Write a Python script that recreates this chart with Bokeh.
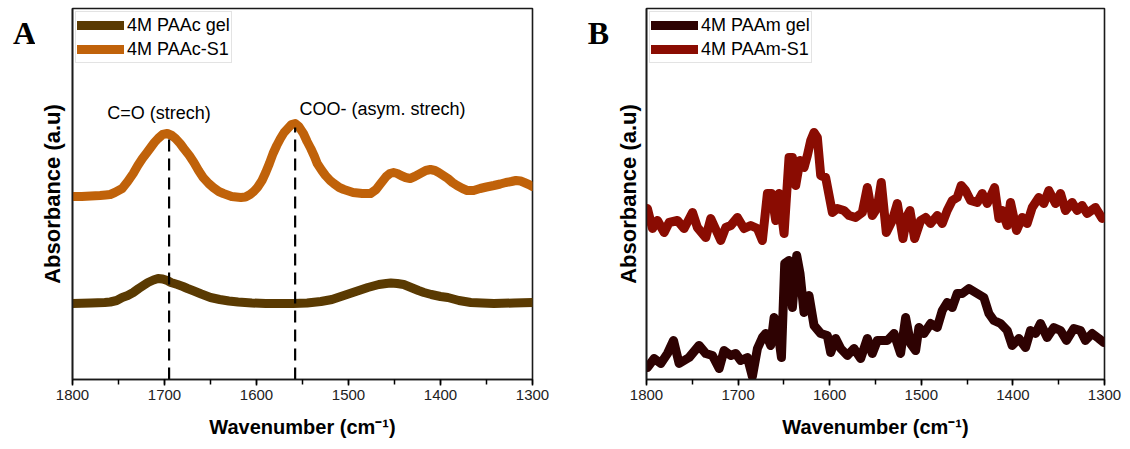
from bokeh.plotting import figure
from bokeh.layouts import row
from bokeh.models import Range1d, SingleIntervalTicker, FixedTicker
from bokeh.core.properties import value
from bokeh.embed import file_html
from bokeh.resources import INLINE

# ---------------- data (arbitrary absorbance units) ----------------
paac_wn = [1800, 1790, 1780, 1770, 1764, 1759, 1754, 1750, 1746, 1740, 1734, 1729, 1724,
           1719, 1715, 1711, 1707, 1702, 1697, 1692, 1688, 1683, 1679, 1673, 1668, 1663,
           1658, 1652, 1647, 1641, 1636, 1627, 1617, 1612, 1607, 1603, 1599, 1594, 1590,
           1586, 1582, 1578, 1574, 1570, 1566, 1562, 1558, 1554, 1549, 1545, 1541, 1537,
           1534, 1529, 1525, 1520, 1516, 1510, 1505, 1495, 1485, 1476, 1470, 1465, 1459,
           1455, 1451, 1447, 1443, 1438, 1433, 1428, 1422, 1416, 1411, 1406, 1402, 1397,
           1392, 1387, 1382, 1376, 1371, 1364, 1357, 1350, 1342, 1335, 1329, 1323, 1318,
           1313, 1309, 1304, 1300]
paac_s1 = [1.83, 1.83, 1.835, 1.84, 1.845, 1.85, 1.87, 1.89, 1.91, 1.98, 2.06, 2.14, 2.21,
           2.27, 2.32, 2.37, 2.41, 2.45, 2.46, 2.44, 2.41, 2.36, 2.31, 2.24, 2.17, 2.09,
           2.02, 1.96, 1.92, 1.88, 1.86, 1.83, 1.82, 1.825, 1.85, 1.88, 1.92, 1.99, 2.07,
           2.16, 2.26, 2.34, 2.41, 2.47, 2.51, 2.55, 2.56, 2.53, 2.46, 2.38, 2.31, 2.23,
           2.16, 2.09, 2.04, 1.99, 1.96, 1.92, 1.90, 1.87, 1.86, 1.86, 1.90, 1.96, 2.03,
           2.06, 2.07, 2.06, 2.04, 2.02, 2.01, 2.03, 2.06, 2.09, 2.10, 2.09, 2.07, 2.04,
           2.01, 1.97, 1.94, 1.91, 1.89, 1.89, 1.91, 1.925, 1.94, 1.955, 1.97, 1.98, 1.99,
           1.985, 1.97, 1.95, 1.93]

paac_gel_wn = [1800, 1780, 1765, 1759, 1752, 1746, 1740, 1734, 1728, 1723, 1718, 1712,
               1707, 1702, 1697, 1693, 1686, 1680, 1675, 1668, 1660, 1650, 1640, 1630,
               1620, 1605, 1590, 1575, 1560, 1545, 1530, 1518, 1505, 1492, 1479, 1467,
               1459, 1454, 1447, 1440, 1432, 1424, 1418, 1410, 1400, 1392, 1380, 1367,
               1355, 1342, 1320, 1300]
paac_gel = [0.76, 0.765, 0.77, 0.775, 0.79, 0.82, 0.84, 0.87, 0.91, 0.94, 0.97, 0.995,
            1.01, 1.005, 0.99, 0.97, 0.95, 0.93, 0.91, 0.885, 0.855, 0.82, 0.80, 0.785,
            0.775, 0.765, 0.76, 0.76, 0.76, 0.765, 0.78, 0.80, 0.84, 0.88, 0.92, 0.95,
            0.96, 0.965, 0.96, 0.95, 0.92, 0.89, 0.87, 0.85, 0.83, 0.82, 0.79, 0.77,
            0.765, 0.76, 0.765, 0.77]

peak_wn = [1695, 1558]
peak_top = [2.47, 2.52]
peak_text = ["C=O (strech)", "COO- (asym. strech)"]
peak_text_wn = [1706, 1463]
peak_text_y = [2.67, 2.71]

paam_s1_wn = [1799, 1793.5, 1788, 1780.7, 1775.3, 1766.2, 1758.9, 1749.8, 1744.4, 1735.3,
              1729.8, 1718.9, 1713.5, 1708, 1700.7, 1693.5, 1686.2, 1678.9, 1673.5, 1668,
              1663.6, 1658.9, 1655.3, 1649.8, 1644.4, 1640.7, 1637.1, 1632.4, 1628, 1624.4,
              1620.7, 1617.1, 1613.5, 1609.8, 1604.4, 1597.1, 1591.7, 1584.4, 1578.9, 1571.7,
              1564.4, 1558.9, 1553.5, 1548, 1543.7, 1538.2, 1531.7, 1526.2, 1520, 1515.3,
              1512.4, 1507.3, 1500.8, 1495.3, 1489.8, 1482.6, 1477.1, 1471.7, 1466.2, 1460.8,
              1456.4, 1451.7, 1446.2, 1438.9, 1433.5, 1428, 1420, 1415.3, 1411.7, 1406.2,
              1402.6, 1396, 1389.9, 1384.4, 1378.9, 1371.7, 1366.2, 1360.8, 1353.5, 1348,
              1342.6, 1335.3, 1329.9, 1324.4, 1319, 1309.9, 1302.6]
paam_s1 = [1.71, 1.51, 1.59, 1.47, 1.57, 1.59, 1.51, 1.67, 1.52, 1.42,
           1.61, 1.39, 1.52, 1.54, 1.62, 1.51, 1.54, 1.51, 1.39, 1.86,
           1.86, 1.59, 1.86, 1.46, 2.22, 2.22, 1.94, 2.19, 2.12, 2.24,
           2.39, 2.47, 2.42, 2.04, 2.02, 1.67, 1.71, 1.69, 1.64, 1.62,
           1.67, 1.92, 1.64, 1.72, 1.97, 1.47, 1.59, 1.76, 1.41, 1.64,
           1.69, 1.41, 1.59, 1.62, 1.56, 1.64, 1.56, 1.69, 1.79, 1.82,
           1.94, 1.89, 1.79, 1.77, 1.86, 1.76, 1.92, 1.61, 1.69, 1.54,
           1.77, 1.49, 1.62, 1.56, 1.72, 1.82, 1.76, 1.89, 1.76, 1.86,
           1.69, 1.77, 1.69, 1.74, 1.66, 1.72, 1.61]

paam_gel_wn = [1799, 1791.6, 1784.4, 1777.1, 1770.5, 1764.4, 1753.5, 1742.6, 1735.3, 1728,
               1720.7, 1715.3, 1708, 1702.6, 1697.1, 1689.8, 1684.4, 1678.9, 1673.5, 1669.8,
               1664.4, 1660.7, 1657.1, 1652.7, 1649.1, 1644.4, 1640.7, 1636, 1632.4, 1628,
               1622.6, 1617.1, 1609.8, 1602.6, 1598.9, 1593.5, 1588, 1580.7, 1573.5, 1566.2,
               1558.9, 1553.5, 1548, 1537.1, 1529.8, 1522.6, 1517.1, 1511.7, 1506.2, 1502.6,
               1497.1, 1489.8, 1482.6, 1477.1, 1471.7, 1466.2, 1460.8, 1455.3, 1448, 1440.8,
               1431.7, 1426.2, 1420.8, 1413.5, 1406.2, 1400.8, 1393.5, 1386.2, 1380.8, 1375.3,
               1369.9, 1362.6, 1355.3, 1348, 1341.5, 1333.5, 1326.2, 1320.8, 1313.5, 1306.2,
               1300.8]
paam_gel = [0.12, 0.21, 0.16, 0.26, 0.39, 0.16, 0.22, 0.34, 0.26, 0.24,
            0.11, 0.29, 0.24, 0.26, 0.19, 0.22, 0.03, 0.31, 0.42, 0.46,
            0.34, 0.62, 0.52, 0.22, 1.16, 1.19, 0.72, 1.24, 1.06, 0.67,
            0.84, 0.54, 0.46, 0.44, 0.27, 0.41, 0.31, 0.24, 0.31, 0.21,
            0.41, 0.26, 0.39, 0.39, 0.46, 0.26, 0.62, 0.36, 0.29, 0.52,
            0.46, 0.56, 0.52, 0.69, 0.77, 0.72, 0.86, 0.86, 0.91, 0.87,
            0.82, 0.66, 0.59, 0.56, 0.49, 0.34, 0.41, 0.32, 0.49, 0.46,
            0.56, 0.42, 0.52, 0.49, 0.39, 0.51, 0.49, 0.39, 0.46, 0.41,
            0.37]

panel_letters = ["A", "B"]

x_ticks_major = 100
FONT = "Liberation Sans"


def base_fig(left, frame_w, right, label_standoff):
    p = figure(output_backend="svg", toolbar_location=None,
               frame_width=frame_w, frame_height=371,
               min_border_left=left, min_border_right=right,
               min_border_top=8, min_border_bottom=70,
               x_range=Range1d(1800, 1300), y_range=Range1d(0, 3.71),
               background_fill_color="white", border_fill_color="white")
    p.xgrid.visible = False
    p.ygrid.visible = False
    p.outline_line_color = "#1a1a1a"
    p.outline_line_width = 1.6
    p.outline_line_alpha = 1.0

    xa = p.xaxis[0]
    xa.ticker = SingleIntervalTicker(interval=x_ticks_major, num_minor_ticks=2)
    xa.axis_label = "Wavenumber (cm\u207b\u00b9)"
    xa.axis_label_text_font = FONT
    xa.axis_label_text_font_style = "bold"
    xa.axis_label_text_font_size = "20px"
    xa.axis_label_text_color = "black"
    xa.axis_label_standoff = 13
    xa.major_label_text_font = FONT
    xa.major_label_text_font_size = "15px"
    xa.major_label_text_color = "#222222"
    xa.major_label_standoff = 4
    xa.major_tick_out = 6
    xa.major_tick_in = 0
    xa.minor_tick_out = 5
    xa.minor_tick_in = 0
    xa.major_tick_line_color = "black"
    xa.minor_tick_line_color = "black"
    xa.major_tick_line_width = 1.5
    xa.minor_tick_line_width = 1.5
    xa.axis_line_color = "#1a1a1a"
    xa.axis_line_width = 1.6

    ya = p.yaxis[0]
    ya.ticker = FixedTicker(ticks=[])
    ya.axis_label = "Absorbance (a.u)"
    ya.axis_label_text_font = FONT
    ya.axis_label_text_font_style = "bold"
    ya.axis_label_text_font_size = "22px"
    ya.axis_label_text_color = "black"
    ya.axis_label_standoff = label_standoff
    ya.major_tick_out = 0
    ya.major_tick_in = 0
    ya.minor_tick_out = 0
    ya.minor_tick_in = 0
    ya.major_label_standoff = 0
    ya.axis_line_color = "#1a1a1a"
    ya.axis_line_width = 1.6
    return p


def style_legend(p):
    lg = p.legend[0]
    lg.location = "top_left"
    lg.margin = 3
    lg.padding = 1
    lg.spacing = 0
    lg.glyph_width = 47
    lg.glyph_height = 24
    lg.label_height = 24
    lg.label_standoff = 3
    lg.label_text_font = FONT
    lg.label_text_font_size = "18px"
    lg.label_text_color = "black"
    lg.border_line_color = "#c8c8c8"
    lg.border_line_width = 1
    lg.background_fill_color = "white"
    lg.background_fill_alpha = 1


def letter_fig(width, letter, xpos):
    f = figure(output_backend="svg", toolbar_location=None, width=width, height=449,
               min_border=0, x_range=Range1d(0, width), y_range=Range1d(0, 449),
               background_fill_color="white", border_fill_color="white")
    f.axis.visible = False
    f.grid.visible = False
    f.outline_line_color = None
    f.text(x=[xpos], y=[419], text=[letter], text_font=value("Liberation Serif"),
           text_font_style="bold", text_font_size="32px", text_color="black",
           text_align="center", text_baseline="middle")
    return f


# ---------------- Panel A ----------------
la = letter_fig(35, panel_letters[0], 24)
pa = base_fig(37, 460, 28, 8)
pa.line(paac_gel_wn, paac_gel, line_color="#5a3a02", line_width=9,
        line_join="round", line_cap="round", legend_label="4M PAAc gel")
pa.line(paac_wn, paac_s1, line_color="#c0620a", line_width=9,
        line_join="round", line_cap="round", legend_label="4M PAAc-S1")
pa.segment(x0=peak_wn, y0=[0, 0], x1=peak_wn, y1=peak_top,
           line_color="black", line_width=2.2, line_dash="12 7")
pa.text(x=peak_text_wn, y=peak_text_y, text=peak_text,
        text_font=value(FONT), text_font_size="18px", text_color="black",
        text_align="center", text_baseline="middle")
style_legend(pa)

# ---------------- Panel B ----------------
lb = letter_fig(49, panel_letters[1], 38)
pb = base_fig(37, 458, 26, 6)
pb.line(paam_gel_wn, paam_gel, line_color="#2e0202", line_width=9,
        line_join="round", line_cap="round", legend_label="4M PAAm gel")
pb.line(paam_s1_wn, paam_s1, line_color="#8a0c02", line_width=9,
        line_join="round", line_cap="round", legend_label="4M PAAm-S1")
style_legend(pb)

layout = row(la, pa, lb, pb)
open("out.html", "w").write(file_html(layout, INLINE))
